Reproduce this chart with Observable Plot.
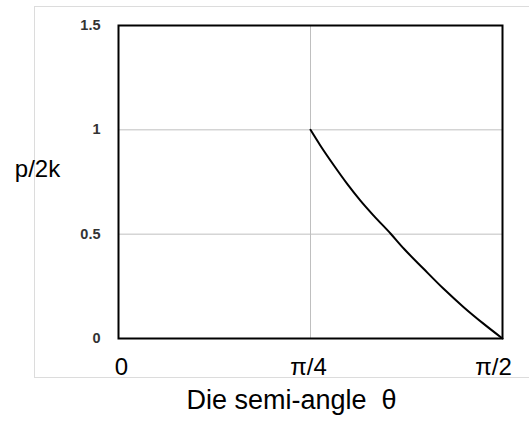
<!DOCTYPE html>
<html>
<head>
<meta charset="utf-8">
<script src="https://cdn.jsdelivr.net/npm/d3@7"></script>
<script src="https://cdn.jsdelivr.net/npm/@observablehq/plot@0.6"></script>
<style>
  html, body { margin: 0; padding: 0; background: white; overflow: hidden; }
  #wrap { position: relative; width: 529px; height: 421px; }
  #outer { position: absolute; left: 34px; top: 6px; width: 600px; height: 370px; border: 1.5px solid #dcdcdc; }
  #chart { position: absolute; left: 0; top: 0; }
</style>
</head>
<body>
<div id="wrap"><div id="outer"></div><div id="chart"></div></div>
<script>
// Die semi-angle in degrees (0 .. 90 = 0 .. π/2)
const theta = [45, 47.3, 50.5, 53.6, 56.7, 59.8, 63.8, 66.9, 71.5, 76.2, 80.9, 85.6, 90];
// p/2k values
const p2k   = [1.0, 0.925, 0.829, 0.741, 0.661, 0.589, 0.502, 0.430, 0.334, 0.238, 0.150, 0.070, 0.0];

const xTicks = [0, 45, 90];
const xTickLabels = ["0", "π/4", "π/2"];
const yTicks = [0, 0.5, 1, 1.5];
const yTickLabels = ["0", "0.5", "1", "1.5"];
const xTitle = "Die semi-angle  θ";
const yTitle = "p/2k";

const data = theta.map((t, i) => ({t, v: p2k[i]}));
const xFmt = (d) => xTickLabels[xTicks.indexOf(d)];
const xAxisStyle = {tickFormat: xFmt, tickSize: 0, tickPadding: 19, fontSize: 24, fill: "black", label: null};
const xLabelShift = [3, -2, -9];

const chart = Plot.plot({
  width: 529,
  height: 421,
  marginLeft: 118,
  marginRight: 27,
  marginTop: 25,
  marginBottom: 83,
  style: {background: "transparent", fontFamily: "Liberation Sans, Arial, sans-serif"},
  x: {domain: [0, 90]},
  y: {domain: [0, 1.5]},
  marks: [
    Plot.gridX([45], {stroke: "#bfbfbf", strokeOpacity: 1, strokeWidth: 1}),
    Plot.gridY([0.5, 1], {stroke: "#bfbfbf", strokeOpacity: 1, strokeWidth: 1}),
    Plot.line(data, {x: "t", y: "v", stroke: "black", strokeWidth: 2, curve: "monotone-x"}),
    Plot.frame({stroke: "black", strokeWidth: 2}),
    ...xTicks.map((t, i) => Plot.axisX([t], {...xAxisStyle, dx: xLabelShift[i]})),
    Plot.axisY({ticks: yTicks, tickFormat: (d) => yTickLabels[yTicks.indexOf(d)], tickSize: 0, tickPadding: 18, fontSize: 14.5, fill: "#333", fontWeight: "bold", label: null}),
    Plot.text([yTitle], {frameAnchor: "left", dx: -81, dy: -13, fontSize: 24, fill: "black", textAnchor: "middle"}),
    Plot.text([xTitle], {frameAnchor: "bottom", dx: -19, dy: 70, fontSize: 27, fill: "black", textAnchor: "middle"})
  ]
});
document.getElementById("chart").appendChild(chart);
</script>
</body>
</html>
